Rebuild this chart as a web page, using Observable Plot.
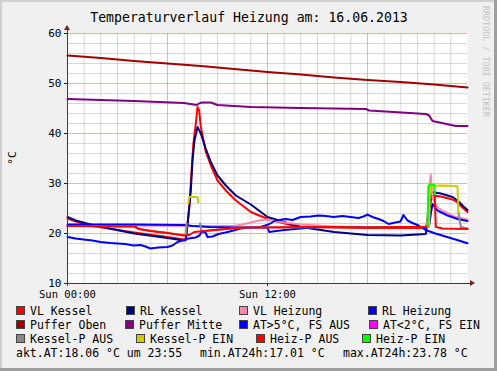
<!DOCTYPE html>
<html><head><meta charset="utf-8">
<script src="https://cdn.jsdelivr.net/npm/d3@7"></script>
<script src="https://cdn.jsdelivr.net/npm/@observablehq/plot@0.6"></script>
<style>
html,body{margin:0;padding:0;background:#f0f0f0;}
#chart{position:relative;width:497px;height:371px;}
svg{display:block;}
</style></head><body><div id="chart"></div>
<script>
// ---------- text ----------
const titleText = "Temperaturverlauf Heizung am: 16.06.2013";
const yLabelText = "°C";
const sideText = "RRDTOOL / TOBI OETIKER";
const summaryTexts = ["akt.AT:18.06 °C um 23:55", "min.AT24h:17.01 °C", "max.AT24h:23.78 °C"];

// ---------- ticks ----------
const yTicks = [10, 20, 30, 40, 50, 60];
const yMinor = [12,14,16,18,22,24,26,28,32,34,36,38,42,44,46,48,52,54,56,58];
const yMajor = [20, 30, 40, 50, 60];
const xTicks = [0, 12];
const xTickLabels = ["Sun 00:00", "Sun 12:00"];
const xMinor = [1,2,3,4,5,7,8,9,10,11,13,14,15,16,17,19,20,21,22,23];
const xMajor = [6, 12, 18];

// ---------- legend ----------
const legendNames = [
  ["VL Kessel", "RL Kessel", "VL Heizung", "RL Heizung"],
  ["Puffer Oben", "Puffer Mitte", "AT>5°C, FS AUS", "AT<2°C, FS EIN"],
  ["Kessel-P AUS", "Kessel-P EIN", "Heiz-P AUS", "Heiz-P EIN"]
];
const legendColors = [
  ["#ff0000", "#000080", "#ff88aa", "#0000ff"],
  ["#a00000", "#800080", "#0000ff", "#ff00ff"],
  ["#888888", "#cccc00", "#ff0000", "#00ff00"]
];

// ---------- series (hours, °C) ----------
const pufferObenH = [0,2,4,6,8,10,12,14,16,18,20,22,24];
const pufferObenV = [55.6,55.1,54.5,54.0,53.5,52.9,52.3,51.8,51.2,50.7,50.3,49.8,49.2];

const pufferMitteH = [0,4,7,7.75,7.95,8.1,8.6,9.0,11,14,17.9,18.1,21.5,21.7,21.9,23.3,24];
const pufferMitteV = [46.9,46.5,46.1,45.7,46.1,46.2,46.2,45.7,45.3,45.1,44.9,44.6,43.9,43.6,42.5,41.5,41.5];

const vlKesselH = [0,0.5,1.5,4,6,7.0,7.1,7.3,7.55,7.7,7.8,7.9,8.0,8.3,8.6,9.0,9.5,10.1,11,11.5,12.1,13.4,14,18,21.5,21.6,21.85,22.4,23.1,23.4,23.7,24];
const vlKesselV = [23.0,22.4,21.5,20.2,19.3,18.8,19.0,25,38,42,45.3,44.6,41.3,36.3,33.6,30.6,28.6,26.6,24.3,23.6,22.8,21.7,21.3,21.1,21.1,22.5,27.6,27.4,26.8,26.2,25.2,24.3];

const rlKesselH = [0,0.5,1.5,4,6,7.0,7.1,7.25,7.4,7.5,7.62,7.8,8.0,8.3,8.6,9.0,9.5,10.1,11,12,14,16,18,20,21.5,21.6,21.85,22.4,23.1,23.4,23.7,24];
const rlKesselV = [23.3,22.6,21.7,20.0,19.1,18.6,18.7,23.3,28.6,34.6,38.6,41.3,40.0,36.9,34.3,31.6,29.6,27.6,25.8,23.3,21.3,20.3,19.7,19.6,19.9,22.9,28.3,28.0,27.3,26.6,25.6,24.7];

const vlHeizH = [0,4,7,7.5,8,10,10.5,11.5,12,13,14,16,18,21.5,21.6,21.7,21.8,21.9,22.2,22.6,23.2,24];
const vlHeizV = [21.6,21.6,21.5,21.5,21.5,21.5,21.8,22.6,22.8,22.2,21.8,21.4,21.3,21.3,22.5,29,31.8,27,25.2,24.4,23.4,22.8];

const rlHeizH = [0,4,7,7.5,8.5,10,12.0,12.1,12.3,13,14,15,18,21.5,21.7,21.8,21.9,22.2,22.8,23.4,24];
const rlHeizV = [21.8,21.8,21.7,21.5,21.3,21.2,21.2,20.3,20.4,20.7,21.0,21.3,21.3,21.3,21.6,24,25.9,24.6,23.6,22.9,22.5];

const atH = [0,0.48,0.96,1.5,1.98,2.58,3.0,3.48,3.96,4.38,4.68,4.98,5.46,6.0,6.3,6.6,6.96,7.26,7.68,7.92,8.04,8.28,8.4,8.7,9.06,9.48,9.96,10.38,10.98,11.58,12.06,12.48,13.08,13.5,13.98,14.58,15.06,15.48,15.96,16.5,16.98,17.46,17.76,18.0,18.3,18.66,18.96,19.26,19.68,19.98,20.16,20.4,20.7,21.06,21.48,22.08,22.68,23.28,24];
const atV = [19.3,19.0,18.8,18.6,18.3,18.1,18.0,17.9,17.6,17.7,17.4,17.0,17.2,17.3,17.6,18.3,18.7,19.0,19.2,19.6,20.3,20.2,19.3,19.4,19.9,20.2,20.6,21.0,21.2,21.3,21.8,22.6,22.9,22.7,23.3,23.4,23.6,23.5,23.3,23.5,23.3,23.1,23.4,23.78,23.3,22.9,22.5,21.9,22.2,22.4,23.7,22.6,22.1,21.6,20.7,20.0,19.4,18.8,18.06];

// Kessel-P (NaN = no data)
const kesselPH = [0,4,4.3,5,6,7.0,7.1,7.15,7.2,7.25,7.3,7.8,7.85,7.9,7.95,8.05,8.5,9.5,10.5,21.5,21.7,21.75,22.5,23.3,23.4,23.45,23.6,24];
const kesselPV = [21.5,21.4,20.9,20.5,20.1,19.6,19.6,22.0,NaN,26.0,27.3,27.3,26.3,NaN,22.0,20.4,20.6,20.9,21.2,21.3,21.3,29.5,29.6,29.5,29.4,24.3,21.3,21.0];
const kesselPOn = [0,0,0,0,0,0,0,0,1,1,1,1,0,0,0,0,0,0,0,0,1,1,1,1,1,0,0,0];

const heizPH = [0,4.0,4.3,5,6,7.0,7.3,7.6,8.5,9.5,10.5,12,14,16,18,20,21.5,21.6,21.65,21.75,22.0,22.03,22.1,22.5,24];
const heizPV = [21.5,21.4,20.9,20.5,20.1,19.6,19.7,20.3,20.6,20.9,21.2,21.2,21.3,21.3,21.2,21.3,21.3,21.6,29.5,29.8,29.7,27.8,21.3,21.0,20.9];
const heizPOn = [0,0,0,0,0,0,0,0,0,0,0,0,0,0,0,0,0,1,1,1,1,0,0,0,0];

// ---------- helpers ----------
const rows = (H, V) => H.map((h, i) => ({h, v: V[i]}));
function splitState(H, V, on, state) {
  return H.map((h, i) => {
    const inc = on[i] === state || (i > 0 && on[i - 1] === state);
    return {h, v: inc ? V[i] : NaN};
  });
}
const lw = 2;
const ln = (data, color) => Plot.line(data, {x: "h", y: "v", stroke: color, strokeWidth: lw, strokeLinejoin: "round"});

const chart = Plot.plot({
  width: 497, height: 371,
  marginLeft: 67, marginRight: 30, marginTop: 33, marginBottom: 88,
  x: {domain: [0, 24], axis: null},
  y: {domain: [10, 60], axis: null},
  style: {background: "#f0f0f0", fontFamily: "DejaVu Sans Mono", color: "black"},
  marks: [
    Plot.frame({fill: "white", stroke: "none"}),
    Plot.ruleX(xMinor, {stroke: "#8f8f8f", strokeOpacity: 0.35}),
    Plot.ruleY(yMinor, {stroke: "#8f8f8f", strokeOpacity: 0.35}),
    Plot.ruleX(xMajor, {stroke: "#de4f4f", strokeOpacity: 0.45}),
    Plot.ruleY(yMajor, {stroke: "#de4f4f", strokeOpacity: 0.45}),
    ln(rows(vlKesselH, vlKesselV), legendColors[0][0]),
    ln(rows(rlKesselH, rlKesselV), legendColors[0][1]),
    ln(rows(vlHeizH, vlHeizV), legendColors[0][2]),
    ln(rows(rlHeizH, rlHeizV), legendColors[0][3]),
    ln(rows(pufferObenH, pufferObenV), legendColors[1][0]),
    ln(rows(pufferMitteH, pufferMitteV), legendColors[1][1]),
    ln(rows(atH, atV), legendColors[1][2]),
    ln(splitState(kesselPH, kesselPV, kesselPOn, 0), legendColors[2][0]),
    ln(splitState(kesselPH, kesselPV, kesselPOn, 1), legendColors[2][1]),
    ln(splitState(heizPH, heizPV, heizPOn, 0), legendColors[2][2]),
    ln(splitState(heizPH, heizPV, heizPOn, 1), legendColors[2][3]),
    Plot.axisY({ticks: yTicks, tickSize: 3, tickPadding: 3, fontSize: 11, label: null, stroke: "#1f1f1f"}),
    Plot.axisX({ticks: xTicks, tickFormat: d => xTickLabels[xTicks.indexOf(d)], tickSize: 3, tickPadding: 4, fontSize: 10.5, label: null, stroke: "#1f1f1f"})
  ]
});
document.getElementById("chart").append(chart);

const svg = d3.select(chart);
const sx = chart.scale("x"), sy = chart.scale("y");
const x0 = sx.apply(0), x1 = sx.apply(24), y0 = sy.apply(10), y1 = sy.apply(60);
const axisColor = "#7f1f1f";

// axes with arrows
svg.append("line").attr("x1", x0).attr("x2", x0).attr("y1", y0 + 3).attr("y2", y1 - 5)
  .attr("stroke", axisColor).attr("stroke-width", 1).attr("shape-rendering", "crispEdges");
svg.append("line").attr("x1", x0 - 3).attr("x2", x1 + 5).attr("y1", y0).attr("y2", y0)
  .attr("stroke", axisColor).attr("stroke-width", 1).attr("shape-rendering", "crispEdges");
svg.append("path").attr("d", `M${x0 - 3},${y1 - 3}L${x0 + 3},${y1 - 3}L${x0},${y1 - 8}Z`).attr("fill", axisColor);
svg.append("path").attr("d", `M${x1 + 3},${y0 - 3}L${x1 + 3},${y0 + 3}L${x1 + 8},${y0}Z`).attr("fill", axisColor);

// border shading
svg.append("rect").attr("x", 0).attr("y", 0).attr("width", 497).attr("height", 2).attr("fill", "#cfcfcf");
svg.append("rect").attr("x", 0).attr("y", 0).attr("width", 2).attr("height", 371).attr("fill", "#cfcfcf");
svg.append("rect").attr("x", 0).attr("y", 368).attr("width", 497).attr("height", 3).attr("fill", "#9e9e9e");
svg.append("rect").attr("x", 494).attr("y", 0).attr("width", 3).attr("height", 371).attr("fill", "#9e9e9e");

const txt = () => svg.append("text").attr("font-family", "DejaVu Sans Mono").attr("fill", "black")
  .attr("dominant-baseline", "central");

// title
txt().attr("x", 249).attr("y", 17).attr("text-anchor", "middle").attr("font-size", 13.2).text(titleText);

// y label
txt().attr("transform", `translate(12,${(y0 + y1) / 2}) rotate(-90)`).attr("text-anchor", "middle")
  .attr("font-size", 11).text(yLabelText);

// side watermark
txt().attr("transform", "translate(486,6) rotate(90)").attr("text-anchor", "start")
  .attr("font-size", 8.4).attr("fill", "#c4c4c4").text(sideText);

// legend
const rowY = [311, 325, 339];
const colX = [[16, 126, 239, 368], [16, 125, 239, 369], [16, 136, 256, 362]];
legendNames.forEach((row, r) => row.forEach((name, c) => {
  const bx = colX[r][c];
  svg.append("rect").attr("x", bx + 0.5).attr("y", rowY[r] - 4.5).attr("width", 8).attr("height", 8)
    .attr("fill", legendColors[r][c]).attr("stroke", "#444").attr("stroke-width", 1);
  txt().attr("x", bx + 14).attr("y", rowY[r]).attr("text-anchor", "start").attr("font-size", 11.5).text(name);
}));
const sumX = [16, 200, 343];
summaryTexts.forEach((t, i) => {
  txt().attr("x", sumX[i]).attr("y", 353).attr("text-anchor", "start").attr("font-size", 11.5).text(t);
});
</script></body></html>
